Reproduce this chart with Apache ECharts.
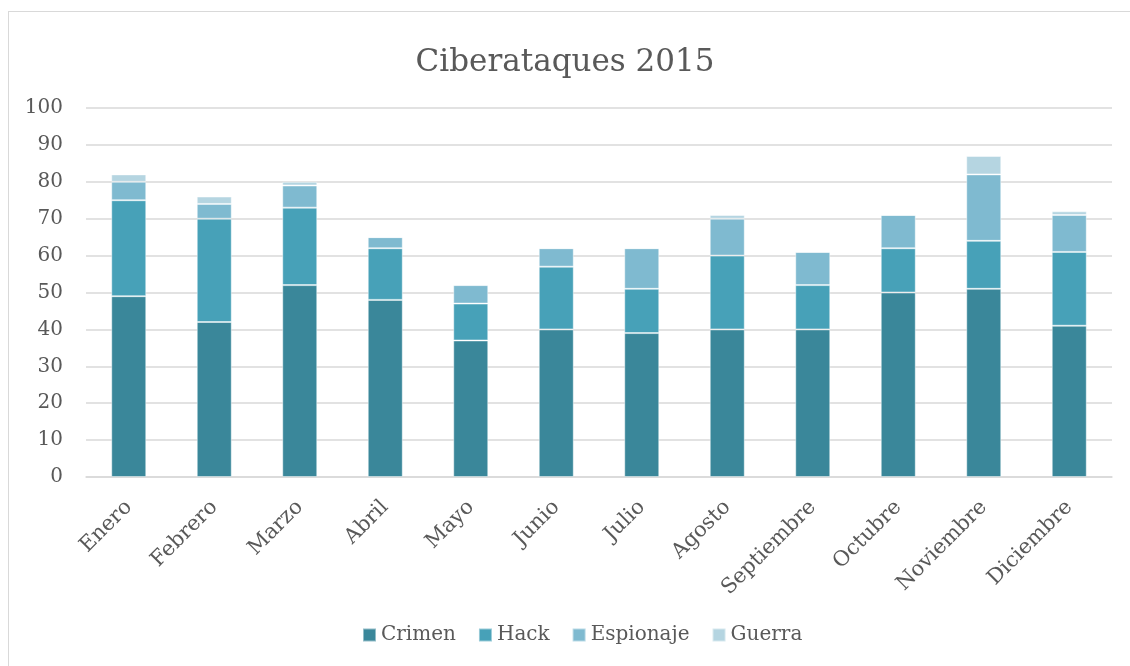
<!DOCTYPE html>
<html>
<head>
<meta charset="utf-8">
<script src="https://cdn.jsdelivr.net/npm/echarts@6/dist/echarts.min.js"></script>
<style>
html,body{margin:0;padding:0;background:#fff;}
#frame{position:absolute;left:8px;top:11px;width:1140px;height:680px;border:1.5px solid #d9d9d9;box-sizing:border-box;}
#chart{position:absolute;left:0;top:0;width:1130px;height:666px;}
</style>
</head>
<body>
<div id="frame"></div>
<div id="chart"></div>
<script>
const categories = ['Enero','Febrero','Marzo','Abril','Mayo','Junio','Julio','Agosto','Septiembre','Octubre','Noviembre','Diciembre'];
const crimen    = [49, 42, 52, 48, 37, 40, 39, 40, 40, 50, 51, 41];
const hack      = [26, 28, 21, 14, 10, 17, 12, 20, 12, 12, 13, 20];
const espionaje = [ 5,  4,  6,  3,  5,  5, 11, 10,  9,  9, 18, 10];
const guerra    = [ 2,  2,  1,  0,  0,  0,  0,  1,  0,  0,  5,  1];
const yTicks = [0, 10, 20, 30, 40, 50, 60, 70, 80, 90, 100];

const font = 'DejaVu Serif';
const txt = '#595959';
const chart = echarts.init(document.getElementById('chart'), null, {renderer:'canvas'});
function s(name, data, color){
  return {name, type:'bar', stack:'total', data, barWidth:35,
    itemStyle:{color, borderColor:'rgba(255,255,255,0.45)', borderWidth:1},
    emphasis:{disabled:true}};
}
chart.setOption({
  animation:false,
  title:{text:'Ciberataques 2015', left:'center', top:42,
    textStyle:{fontFamily:font, fontSize:31, fontWeight:'normal', color:txt}},
  grid:{left:86, right:18, top:108, bottom:189, containLabel:false},
  legend:{bottom:16, left:357, itemWidth:13, itemHeight:13, itemGap:22, icon:'rect',
    textStyle:{fontFamily:font, fontSize:20, color:txt},
    data:['Crimen','Hack','Espionaje','Guerra']},
  xAxis:{type:'category', data:categories,
    axisLine:{lineStyle:{color:'#d9d9d9', width:1.5}}, axisTick:{show:false},
    axisLabel:{rotate:45, interval:0, fontFamily:font, fontSize:21, color:txt, margin:27}},
  yAxis:{type:'value', min:yTicks[0], max:yTicks[yTicks.length-1], interval:10,
    axisLine:{show:false}, axisTick:{show:false},
    splitLine:{lineStyle:{color:'#d9d9d9', width:1.5}},
    axisLabel:{fontFamily:font, fontSize:20, color:txt, margin:23}},
  series:[
    s('Crimen', crimen, '#3a879a'),
    s('Hack', hack, '#47a1b8'),
    s('Espionaje', espionaje, '#7fbad0'),
    s('Guerra', guerra, '#b5d5e1')
  ]
});
</script>
</body>
</html>
